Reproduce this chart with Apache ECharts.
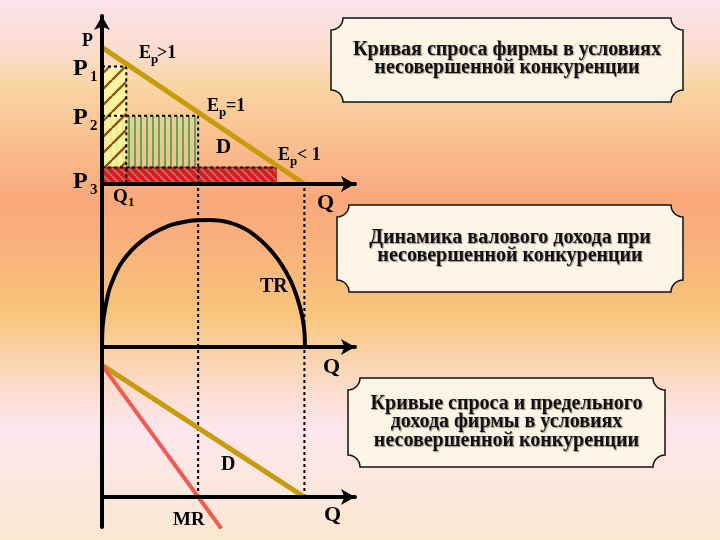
<!DOCTYPE html>
<html>
<head>
<meta charset="utf-8">
<script src="https://cdn.jsdelivr.net/npm/echarts@6/dist/echarts.min.js"></script>
<style>
  html, body { margin: 0; padding: 0; }
  #chart { width: 720px; height: 540px; }
</style>
</head>
<body>
<div id="chart"></div>
<script>
// levels on the demand curve (top panel)
var Q1 = 1.2, Q2 = 4.75, Q3 = 8.6, QEND = 10;
var P1 = 8.6, P2 = 5.0, P3 = 1.2;

var demandTop = [[0, 10], [10, 0]];
// total revenue curve
var trPoints = [[0, 0], [0.03, 4], [0.15, 7.5], [0.4, 11.8], [1.0, 16.8], [2.0, 21], [3.2, 23.7],
  [4.3, 24.8], [5.3, 25], [6.3, 24.5], [7.3, 22.7], [8.45, 18.5], [9.3, 13.2], [9.78, 7.9], [9.98, 3.9], [10.03, 0]];
var demandBottom = [[0, 10], [10, 0]];
var mrPoints = [[0, 10], [5.9, -2.4]];

// rectangles: [q0, p0, q1, p1]
var rectYellow = [[0, 0, Q1, P1]];
var rectGreen = [[0, P3, Q2, P2]];
var rectRed = [[0, 0, Q3, P3]];

var titles = [
  "Кривая спроса фирмы в условиях\nнесовершенной конкуренции",
  "Динамика валового дохода при\nнесовершенной конкуренции",
  "Кривые спроса и предельного\nдохода фирмы в условиях\nнесовершенной конкуренции"
];

var chart = echarts.init(document.getElementById("chart"));
var FONT = '"Liberation Serif", "Times New Roman", serif';

function hatch(size, color, lw, dir) {
  var c = document.createElement("canvas");
  c.width = c.height = size;
  var g = c.getContext("2d");
  g.strokeStyle = color;
  g.lineWidth = lw;
  g.beginPath();
  if (dir === "v") {
    g.moveTo(size / 2, 0);
    g.lineTo(size / 2, size);
  } else {
    for (var k = -1; k <= 1; k++) {
      if (dir === "/") {
        g.moveTo(k * size, size);
        g.lineTo(k * size + size, 0);
      } else {
        g.moveTo(k * size, 0);
        g.lineTo(k * size + size, size);
      }
    }
  }
  g.stroke();
  return { image: c, repeat: "repeat" };
}

function rectSeries(data, fill, pattern, stroke) {
  return {
    type: "custom",
    xAxisIndex: 0,
    yAxisIndex: 0,
    silent: true,
    data: data,
    encode: { x: [0, 2], y: [1, 3] },
    renderItem: function (params, api) {
      var a = api.coord([api.value(0), api.value(1)]);
      var b = api.coord([api.value(2), api.value(3)]);
      var shape = { x: a[0], y: b[1], width: b[0] - a[0], height: a[1] - b[1] };
      return {
        type: "group",
        children: [
          { type: "rect", shape: shape, style: { fill: fill, stroke: stroke || null, lineWidth: 1.5 } },
          { type: "rect", shape: shape, style: { fill: pattern } }
        ]
      };
    }
  };
}

function lineSeries(grid, data, color, width, dashed) {
  return {
    type: "line",
    xAxisIndex: grid,
    yAxisIndex: grid,
    data: data,
    symbol: "none",
    silent: true,
    lineStyle: { color: color, width: width, type: dashed ? [3, 3] : "solid" },
    z: dashed ? 3 : 4
  };
}

// outline of a plaque with concave (scooped) corners
function plaque(x0, y0, x1, y1, r) {
  var pts = [];
  var corners = [[x1, y0, Math.PI, Math.PI / 2], [x1, y1, 1.5 * Math.PI, Math.PI],
    [x0, y1, 0, -Math.PI / 2], [x0, y0, Math.PI / 2, 0]];
  corners.forEach(function (c) {
    for (var i = 0; i <= 8; i++) {
      var t = c[2] + (c[3] - c[2]) * i / 8;
      pts.push([c[0] + r * Math.cos(t), c[1] + r * Math.sin(t)]);
    }
  });
  return pts;
}

function box(x0, y0, x1, y1, text, cy) {
  return [
    {
      type: "polygon", z: 10, silent: true,
      shape: { points: plaque(x0, y0, x1, y1, 12) },
      style: { fill: "#fcf4e4", stroke: "#111", lineWidth: 1.5 }
    },
    {
      type: "text", z: 11, silent: true,
      style: {
        text: text, x: (x0 + x1) / 2, y: cy, align: "center", verticalAlign: "middle",
        font: "bold 20px " + FONT, lineHeight: 18.5, fill: "#111",
        textShadowColor: "rgba(0,0,0,0.4)", textShadowOffsetX: 1, textShadowOffsetY: 1, textShadowBlur: 1
      }
    }
  ];
}

function txt(x, y, s, size) {
  return {
    type: "text", z: 20, silent: true,
    style: { text: s, x: x, y: y, align: "left", verticalAlign: "middle", font: "bold " + size + "px " + FONT, fill: "#000" }
  };
}

var labels = [
  txt(82, 41, "P", 18),
  txt(73, 69, "P", 24), txt(90, 77, "1", 15),
  txt(73, 118, "P", 24), txt(90, 126, "2", 15),
  txt(73, 182, "P", 24), txt(90, 190, "3", 15),
  txt(113, 197, "Q", 19), txt(128, 203, "1", 13),
  txt(139, 53, "E", 18), txt(151, 60, "p", 13), txt(157, 53, ">1", 18),
  txt(207, 106, "E", 18), txt(219, 113, "p", 13), txt(226, 106, "=1", 18),
  txt(278, 155, "E", 18), txt(290, 162, "p", 13), txt(297, 155, "< 1", 18),
  txt(216, 148, "D", 21),
  txt(317, 203, "Q", 22),
  txt(260, 287, "TR", 20),
  txt(323, 367, "Q", 22),
  txt(221, 465, "D", 20),
  txt(173, 520, "MR", 19),
  txt(324, 515, "Q", 22)
];

var bg = {
  type: "rect", z: -100, silent: true,
  shape: { x: 0, y: 0, width: 720, height: 540 },
  style: {
    fill: {
      type: "linear", x: 0, y: 0, x2: 0, y2: 1,
      colorStops: [
        { offset: 0, color: "#fde3ec" },
        { offset: 0.1, color: "#fbdccc" },
        { offset: 0.16, color: "#f9d5a2" },
        { offset: 0.37, color: "#f9a87c" },
        { offset: 0.45, color: "#f9b07c" },
        { offset: 0.58, color: "#f8c57b" },
        { offset: 0.68, color: "#fbd6b8" },
        { offset: 0.79, color: "#fde6ee" },
        { offset: 1, color: "#fbe8d0" }
      ]
    }
  }
};

function xAx(i) {
  return {
    gridIndex: i, type: "value", min: 0, max: 12.5, z: 5,
    axisLine: { show: true, onZero: true, symbol: ["none", "arrow"], symbolSize: [12, 14], lineStyle: { color: "#000", width: 4 } },
    axisTick: { show: false }, axisLabel: { show: false }, splitLine: { show: false }
  };
}
function yAx(i, min, max, arrow) {
  return {
    gridIndex: i, type: "value", min: min, max: max, z: 5,
    axisLine: { show: true, onZero: false, symbol: arrow ? ["none", "arrow"] : "none", symbolSize: [12, 14], lineStyle: { color: "#000", width: 4 } },
    axisTick: { show: false }, axisLabel: { show: false }, splitLine: { show: false }
  };
}

var top2 = 32.1, top3 = 11.37;

var option = {
  animation: false,
  grid: [
    { left: 102, top: 16, width: 253, height: 168 },
    { left: 102, top: 184, width: 253, height: 163 },
    { left: 102, top: 347, width: 253, height: 180 }
  ],
  xAxis: [xAx(0), xAx(1), xAx(2)],
  yAxis: [yAx(0, 0, 12.29, true), yAx(1, 0, top2, false), yAx(2, -2.27, top3, false)],
  graphic: [bg].concat(
    box(331, 18, 683, 102, titles[0], 59),
    box(337, 205, 683, 292, titles[1], 247),
    box(348, 378, 665, 467, titles[2], 422),
    labels
  ),
  series: [
    rectSeries(rectGreen, "rgba(196,222,150,0.45)", hatch(6, "#5d8f4a", 1.6, "v")),
    rectSeries(rectYellow, "rgba(252,250,160,0.85)", hatch(16, "#8f5420", 2.4, "/")),
    rectSeries(rectRed, "#e81414", hatch(8, "rgba(160,125,125,0.9)", 2, "\\"), "#d01010"),
    lineSeries(0, [[0, P1], [Q1, P1], [Q1, 0]], "#000", 2, true),
    lineSeries(0, [[0, P2], [Q2, P2], [Q2, 0]], "#000", 2, true),
    lineSeries(0, [[0, P3], [Q3, P3]], "#000", 2, true),
    lineSeries(0, demandTop, "#c89b0a", 5, false),
    lineSeries(1, [[Q2, 0], [Q2, top2]], "#000", 2, true),
    lineSeries(1, [[QEND, 0], [QEND, top2]], "#000", 2, true),
    Object.assign(lineSeries(1, trPoints, "#000", 4, false), { smooth: 0.3 }),
    lineSeries(2, [[Q2, 0], [Q2, top3]], "#000", 2, true),
    lineSeries(2, [[QEND, 0], [QEND, top3]], "#000", 2, true),
    lineSeries(2, demandBottom, "#c89b0a", 5, false),
    lineSeries(2, mrPoints, "#f05a50", 4, false)
  ]
};
chart.setOption(option);
</script>
</body>
</html>
